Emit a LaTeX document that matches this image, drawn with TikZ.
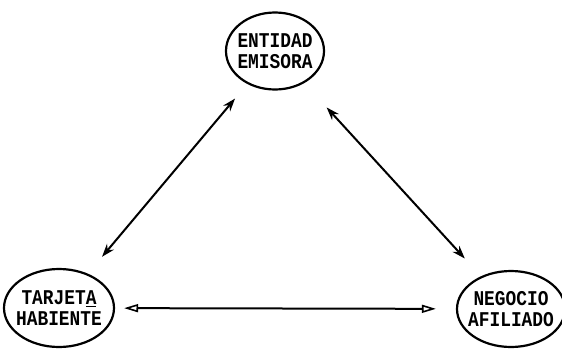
\documentclass[tikz,border=0pt]{standalone}
\usepackage{fontspec}
\newfontfamily\typew[FakeStretch=0.85]{Liberation Mono}
\usetikzlibrary{shapes.geometric,arrows.meta}
\begin{document}
\begin{tikzpicture}[x=1pt,y=1pt,
  party/.style={ellipse,draw,line width=2.2pt,inner xsep=-12pt,inner ysep=-8pt,align=center,
    font=\typew\bfseries\fontsize{21}{20.5}\selectfont},
  link/.style={line width=2pt,{Stealth[length=13pt,width=9pt]}-{Stealth[length=13pt,width=9pt]}},
  hlink/.style={line width=2pt,{Triangle[open,length=14pt,width=8pt,line width=1.6pt]}-{Triangle[open,length=14pt,width=8pt,line width=1.6pt]}}
]
\useasboundingbox (0,0) rectangle (562,-351);
\node[party,minimum width=98pt,minimum height=77pt] (ent) at (275,-51) {ENTIDAD\\EMISORA};
\node[party,minimum width=110pt,minimum height=78pt] (tar) at (59,-308) {TARJET\underline{A}\\HABIENTE};
\node[party,minimum width=108pt,minimum height=76pt] (neg) at (511,-309) {NEGOCIO\\AFILIADO};
\draw[link,shorten <=19pt,shorten >=22pt] (ent) -- (tar);
\draw[link,shorten <=33pt,shorten >=24pt] (ent) -- (neg);
\draw[hlink,shorten <=9pt,shorten >=20pt] (tar) -- (neg);
\end{tikzpicture}
\end{document}
